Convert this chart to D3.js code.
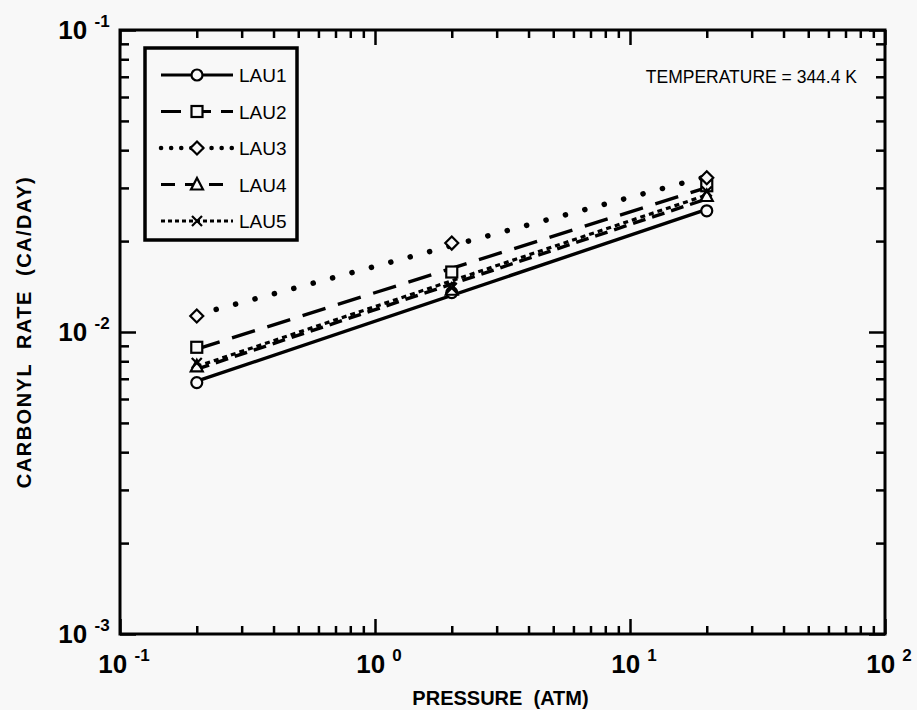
<!DOCTYPE html>
<html>
<head>
<meta charset="utf-8">
<script src="https://cdn.jsdelivr.net/npm/d3@7"></script>
<style>
  body { margin: 0; background: #f8f8f8; }
  svg { display: block; }
  text { font-family: "Liberation Sans", Arial, sans-serif; fill: #000; }
</style>
</head>
<body>
<div id="chart"></div>
<script>
// data
var pressures = [0.2, 2, 20];
var seriesNames = ["LAU1", "LAU2", "LAU3", "LAU4", "LAU5"];
var lau1 = [0.0068, 0.0135, 0.0252];
var lau2 = [0.0089, 0.0158, 0.0305];
var lau3 = [0.0113, 0.0197, 0.0324];
var lau4 = [0.0077, 0.0138, 0.0282];
var lau5 = [0.0079, 0.0140, 0.0292];
var xTickExp = [-1, 0, 1, 2];
var yTickExp = [-1, -2, -3];

var svgWidth = 917;
var svgHeight = 710;
var margin = { top: 30, right: 32, bottom: 76, left: 120 };
var width = svgWidth - margin.left - margin.right;
var height = svgHeight - margin.top - margin.bottom;

var svg = d3.select("#chart").append("svg")
  .attr("width", svgWidth)
  .attr("height", svgHeight);

svg.append("rect")
  .attr("width", svgWidth).attr("height", svgHeight)
  .attr("fill", "#f8f8f8");

var chartGroup = svg.append("g")
  .attr("transform", `translate(${margin.left}, ${margin.top})`);

var x = d3.scaleLog().domain([0.1, 100]).range([0, width]);
var y = d3.scaleLog().domain([0.001, 0.1]).range([height, 0]);

// major / minor tick values
function splitTicks(scale) {
  var all = scale.ticks();
  var major = all.filter(d => Math.abs(Math.log10(d) - Math.round(Math.log10(d))) < 1e-9);
  var minor = all.filter(d => major.indexOf(d) < 0);
  return { major: major, minor: minor };
}
var xt = splitTicks(x);
var yt = splitTicks(y);

function drawAxis(axisFn, scale, vals, size, transform) {
  var g = chartGroup.append("g")
    .attr("transform", transform)
    .call(axisFn(scale).tickValues(vals).tickSizeInner(-size).tickSizeOuter(0).tickFormat(""));
  g.select(".domain").remove();
  g.selectAll(".tick line").attr("stroke", "#000").attr("stroke-width", 2.5);
}

// inward ticks on all four sides
drawAxis(d3.axisBottom, x, xt.minor, 8, `translate(0, ${height})`);
drawAxis(d3.axisBottom, x, xt.major, 15, `translate(0, ${height})`);
drawAxis(d3.axisTop, x, xt.minor, 8, "translate(0, 0)");
drawAxis(d3.axisTop, x, xt.major, 15, "translate(0, 0)");
drawAxis(d3.axisLeft, y, yt.minor, 9, "translate(0, 0)");
drawAxis(d3.axisLeft, y, yt.major, 16, "translate(0, 0)");
drawAxis(d3.axisRight, y, yt.minor, 9, `translate(${width}, 0)`);
drawAxis(d3.axisRight, y, yt.major, 16, `translate(${width}, 0)`);

// frame
chartGroup.append("rect")
  .attr("width", width).attr("height", height)
  .attr("fill", "none").attr("stroke", "#000").attr("stroke-width", 3);

// tick labels: 10 with superscript exponent
xTickExp.forEach(function(e) {
  var t = chartGroup.append("text")
    .attr("x", x(Math.pow(10, e)) + 4)
    .attr("y", height + 39)
    .attr("text-anchor", "middle")
    .attr("font-size", 26)
    .attr("font-weight", "bold");
  t.append("tspan").text("10 ");
  t.append("tspan").attr("font-size", 17).attr("dy", -12).text(e);
});

yTickExp.forEach(function(e) {
  var t = chartGroup.append("text")
    .attr("x", -36)
    .attr("y", y(Math.pow(10, e)) + 9)
    .attr("text-anchor", "middle")
    .attr("font-size", 26)
    .attr("font-weight", "bold");
  t.append("tspan").text("10 ");
  t.append("tspan").attr("font-size", 17).attr("dy", -12).text(e);
});

// axis titles
chartGroup.append("text")
  .attr("x", width / 2 - 2)
  .attr("y", height + 71)
  .attr("text-anchor", "middle")
  .attr("font-size", 20)
  .attr("font-weight", "bold")
  .attr("xml:space", "preserve")
  .text("PRESSURE  (ATM)");

chartGroup.append("text")
  .attr("transform", `translate(-89, ${height / 2}) rotate(-90)`)
  .attr("text-anchor", "middle")
  .attr("font-size", 20)
  .attr("font-weight", "bold")
  .attr("letter-spacing", 1.5)
  .attr("xml:space", "preserve")
  .text("CARBONYL  RATE  (CA/DAY)");

chartGroup.append("text")
  .attr("x", width - 28)
  .attr("y", 53)
  .attr("text-anchor", "end")
  .attr("font-size", 17.5)
  .text("TEMPERATURE = 344.4 K");

// series styling
var allSeries = [lau1, lau2, lau3, lau4, lau5];
var dashes = [null, "24,13", "0.1,20", "13,7", "5,4"];
var capStyle = ["butt", "butt", "round", "butt", "butt"];
var lineWidth = [3.4, 3.4, 5.5, 3.4, 3.2];
var markers = ["circle", "square", "diamond", "triangle", "cross"];

// power-law fit in log-log space, like the original plot
function fitLine(vals) {
  var lx = pressures.map(d => Math.log10(d));
  var ly = vals.map(d => Math.log10(d));
  var mx = d3.mean(lx), my = d3.mean(ly);
  var b = d3.sum(lx, (d, i) => (d - mx) * (ly[i] - my)) / d3.sum(lx, d => (d - mx) * (d - mx));
  var a = my - b * mx;
  return [pressures[0], pressures[pressures.length - 1]].map(p => [p, Math.pow(10, a + b * Math.log10(p))]);
}

var line = d3.line().x(d => x(d[0])).y(d => y(d[1]));

allSeries.forEach(function(vals, i) {
  chartGroup.append("path")
    .datum(fitLine(vals))
    .attr("d", line)
    .attr("fill", "none")
    .attr("stroke", "#000")
    .attr("stroke-width", lineWidth[i])
    .attr("stroke-linecap", capStyle[i])
    .attr("stroke-dasharray", dashes[i]);
});

function drawMarker(g, type, cx, cy) {
  var s = 5.5;
  var m;
  if (type === "circle") {
    m = g.append("circle").attr("cx", cx).attr("cy", cy).attr("r", s);
  } else if (type === "square") {
    m = g.append("rect").attr("x", cx - s).attr("y", cy - s).attr("width", 2 * s).attr("height", 2 * s);
  } else if (type === "diamond") {
    m = g.append("path").attr("d", `M${cx},${cy - 6.5}L${cx + 6.5},${cy}L${cx},${cy + 6.5}L${cx - 6.5},${cy}Z`);
  } else if (type === "triangle") {
    m = g.append("path").attr("d", `M${cx},${cy - 6.5}L${cx + 6},${cy + 5}L${cx - 6},${cy + 5}Z`);
  } else {
    m = g.append("path").attr("d", `M${cx - 5},${cy - 5}L${cx + 5},${cy + 5}M${cx + 5},${cy - 5}L${cx - 5},${cy + 5}`);
  }
  m.attr("fill", type === "cross" ? "none" : "#f8f8f8")
    .attr("stroke", "#000")
    .attr("stroke-width", 2.2);
}

allSeries.forEach(function(vals, i) {
  var g = chartGroup.append("g").attr("class", "markers");
  vals.forEach(function(v, j) {
    drawMarker(g, markers[i], x(pressures[j]), y(v));
  });
});

// legend
var legend = chartGroup.append("g").attr("transform", "translate(25, 18)");
legend.append("rect")
  .attr("width", 152).attr("height", 192)
  .attr("fill", "#f8f8f8")
  .attr("stroke", "#000").attr("stroke-width", 3.5);

var legendDash = [null, "20,10", "0.1,10", "14,10", "4,3"];
seriesNames.forEach(function(name, i) {
  var ly = 27 + i * 36.5;
  legend.append("line")
    .attr("x1", 16).attr("x2", 88)
    .attr("y1", ly).attr("y2", ly)
    .attr("stroke", "#000")
    .attr("stroke-width", i === 2 ? 4.5 : 3)
    .attr("stroke-linecap", capStyle[i])
    .attr("stroke-dasharray", legendDash[i]);
  drawMarker(legend, markers[i], 52, ly);
  legend.append("text")
    .attr("x", 94)
    .attr("y", ly + 7)
    .attr("font-size", 19)
    .text(name);
});
</script>
</body>
</html>
